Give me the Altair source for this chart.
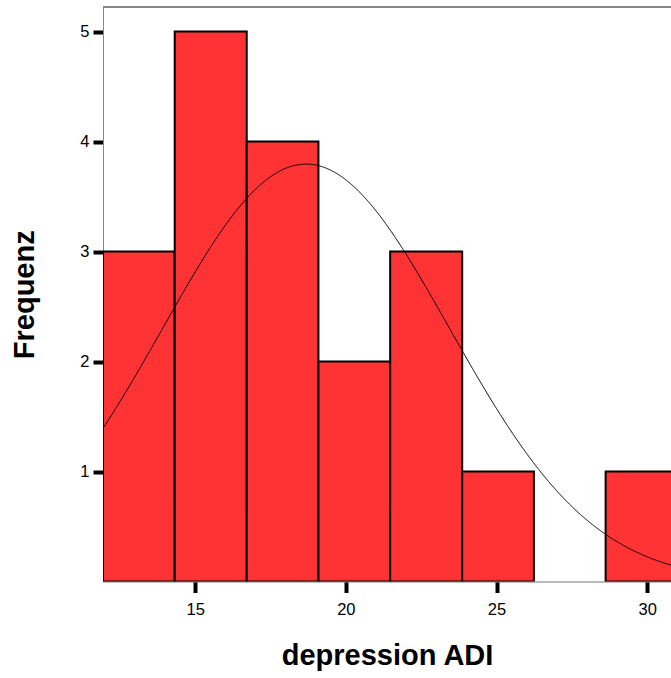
import altair as alt
import pandas as pd

# ---- data ----
bin_edges = [11.94, 14.32, 16.71, 19.09, 21.47, 23.86, 26.24, 28.62, 31.00]
counts = [3, 5, 4, 2, 3, 1, 0, 1]
x_ticks = [15, 20, 25, 30]
y_ticks = [1, 2, 3, 4, 5]
fit_mean = 18.68
fit_sd = 4.76
n_cases = 19
bin_width = 2.383
x_domain = [11.94, 30.79]
y_domain = [0, 5.223]

bars_df = pd.DataFrame({"lo": bin_edges[:-1], "hi": bin_edges[1:], "count": counts})

FONT = "Liberation Sans"
xs = alt.Scale(domain=x_domain, nice=False, zero=False)
ys = alt.Scale(domain=y_domain, nice=False, zero=True)

x_axis = alt.Axis(
    values=x_ticks, title="depression ADI", grid=False, format="d",
    tickSize=11, tickWidth=4, tickColor="black",
    domainColor="#888888", domainWidth=1,
    labelFont=FONT, labelFontSize=16.5, labelColor="black", labelPadding=9,
    titleFont=FONT, titleFontSize=29, titleFontWeight="bold", titleColor="black",
    titleY=83, titleBaseline="alphabetic",
)
y_axis = alt.Axis(
    values=y_ticks, title="Frequenz", grid=False, format="d",
    tickSize=10, tickWidth=4, tickColor="black",
    domainColor="#888888", domainWidth=1,
    labelFont=FONT, labelFontSize=16.5, labelColor="black", labelPadding=4,
    titleFont=FONT, titleFontSize=29, titleFontWeight="bold", titleColor="black",
    titleX=-70, titleAngle=270, titleBaseline="alphabetic",
)

bars = alt.Chart(bars_df).transform_filter("datum.count > 0").mark_rect(
    fill="#ff3333", stroke="black", strokeWidth=2, clip=True
).encode(
    x=alt.X("lo:Q", scale=xs, axis=x_axis),
    x2="hi:Q",
    y=alt.Y("count:Q", scale=ys, axis=y_axis),
    y2=alt.datum(0),
)

curve_expr = (
    f"{n_cases}*{bin_width}/({fit_sd}*sqrt(2*PI))"
    f"*exp(-0.5*pow((datum.x-{fit_mean})/{fit_sd},2))"
)
curve = alt.Chart(alt.sequence(x_domain[0], x_domain[1] + 0.02, 0.02, as_="x")).transform_calculate(
    y=curve_expr
).mark_line(color="black", strokeWidth=1, clip=True).encode(
    x=alt.X("x:Q", scale=xs),
    y=alt.Y("y:Q", scale=ys),
)

frame_top = alt.Chart(bars_df).mark_rule(color="#888888", strokeWidth=1).encode(
    x=alt.datum(x_domain[0], scale=xs),
    x2=alt.datum(x_domain[1]),
    y=alt.datum(y_domain[1], scale=ys),
)

chart = alt.layer(bars, curve, frame_top).properties(
    width=568, height=574.5,
    autosize=alt.AutoSizeParams(type="none"),
    padding={"left": 103, "top": 7, "right": 0, "bottom": 96.5},
).configure_view(stroke=None).configure(background="white")

chart.save("out.html", embed_options={"renderer": "svg", "actions": False})
